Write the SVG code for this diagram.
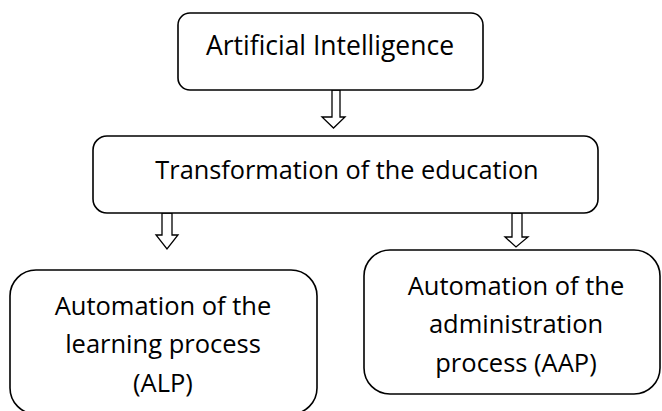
<svg xmlns="http://www.w3.org/2000/svg" width="662" height="411" viewBox="0 0 662 411">
<style>
.box{fill:#fff;stroke:#000;stroke-width:1.6}
.arr{fill:#fff;stroke:#000;stroke-width:1.3;stroke-linejoin:miter}
text{font-family:"Open Sans","Liberation Sans",sans-serif;fill:#000;text-anchor:middle}
</style>
<rect width="662" height="411" fill="#fff"/>
<g id="connectors">
<polygon class="arr" points="332,90 340,90 340,117 345,117 333.5,128 322,117 332,117"/>
<polygon class="arr" points="162,213 172,213 172,235 178,235 167,249 156,235 162,235"/>
<polygon class="arr" points="512,213 522,213 522,237 528,237 516,247 505,237 512,237"/>
</g>
<g id="node-ai">
<rect class="box" x="178" y="13" width="305" height="77" rx="12"/>
<text x="330" y="55" font-size="26.5">Artificial Intelligence</text>
</g>
<g id="node-transformation">
<rect class="box" x="93" y="136" width="505" height="77" rx="14"/>
<text x="347" y="179" font-size="25.3">Transformation of the education</text>
</g>
<g id="node-alp">
<rect class="box" x="10" y="270" width="307" height="144" rx="26"/>
<text x="163" y="315" font-size="25.5">Automation of the</text>
<text x="163" y="353" font-size="25.5">learning process</text>
<text x="163" y="392" font-size="25.5">(ALP)</text>
</g>
<g id="node-aap">
<rect class="box" x="364" y="250" width="296" height="144" rx="26"/>
<text x="516" y="295" font-size="25.5">Automation of the</text>
<text x="516" y="333" font-size="25.5">administration</text>
<text x="516" y="372" font-size="25.5">process (AAP)</text>
</g>
</svg>
